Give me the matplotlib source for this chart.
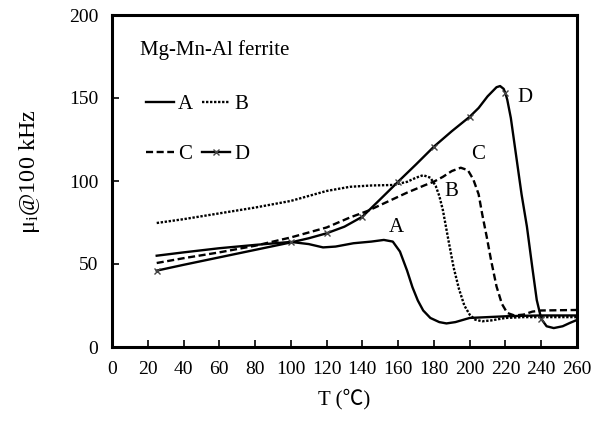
import matplotlib
matplotlib.use("Agg")
import matplotlib.pyplot as plt

# ---- data ----
A_T = [25, 40, 60, 80, 100, 110, 118, 125, 135, 145, 152, 157, 161, 165, 168, 171, 174, 178,
       183, 187, 192, 200, 210, 220, 230, 240, 250, 260]
A_mu = [55, 57, 59.5, 61.5, 63.3, 62, 60, 60.5, 62.5, 63.5, 64.5, 63.5, 57.5, 46, 36, 28, 22, 17.5,
        15, 14.2, 15, 17.5, 18, 18.5, 18.8, 19, 19, 19]

B_T = [25, 40, 60, 80, 100, 110, 120, 133, 145, 157, 165, 170, 174, 178, 181, 183, 185, 188,
       191, 194, 197, 200, 203, 207, 212, 220, 230, 260]
B_mu = [74.7, 77, 80.5, 84, 88, 91, 94, 96.5, 97.3, 97.6, 99.5, 102, 103.5, 102, 97, 91, 82.5, 65,
        48, 35, 25, 19.5, 16.5, 15.5, 16, 17.5, 18, 18]

C_T = [25, 40, 60, 80, 100, 120, 133, 143, 155, 165, 175, 180, 185, 190, 195, 199, 202, 205,
       207, 209.5, 212, 215, 218, 221, 225, 230, 235, 240, 260]
C_mu = [50.6, 53.5, 57, 61, 66, 72, 78, 82, 88, 93, 97.5, 99.6, 102.5, 106, 108, 106.5, 101, 92,
        80, 66.5, 52, 36.5, 26, 20.5, 19, 19.5, 21.3, 22, 22.3]

D_T = [25, 40, 60, 80, 100, 110, 120, 130, 140, 150, 160, 170, 180, 190, 200, 205, 210, 215,
       217, 219, 220, 221, 223, 226, 229, 232, 235, 237.5, 240, 243, 247, 252, 256, 260]
D_mu = [46, 49.5, 54, 58.5, 63, 65.5, 68.5, 72.5, 78.5, 89, 99.6, 110, 120.7, 130, 138.7, 144, 151,
        156.5, 157.2, 155.5, 152.8, 149, 138, 115, 92, 72.5, 48, 28.3, 17, 12.5, 11.4, 12.5, 14.5, 16.3]
D_marks = [25, 100, 120, 140, 160, 180, 200, 220, 240]

x_ticks = list(range(0, 261, 20))
y_ticks = [0, 50, 100, 150, 200]

serif = ["Liberation Serif", "Noto Sans CJK SC", "DejaVu Sans"]
plt.rcParams["font.family"] = serif
plt.rcParams["mathtext.fontset"] = "custom"
plt.rcParams["mathtext.rm"] = "Liberation Serif"
plt.rcParams["mathtext.it"] = "Liberation Serif"

fig = plt.figure(figsize=(6.10, 4.23), dpi=100)
ax = fig.add_axes([112 / 610, 1 - 347 / 423, 465 / 610, 332 / 423])

lw = 1.7
hA, = ax.plot(A_T, A_mu, color="black", lw=lw, ls="-", label="A")
hB, = ax.plot(B_T, B_mu, color="black", lw=lw, ls=(0, (1, 0.7)), label="B")
hC, = ax.plot(C_T, C_mu, color="black", lw=lw, ls=(0, (3, 1.5)), label="C")
mk_idx = [D_T.index(t) for t in D_marks]
hD, = ax.plot(D_T, D_mu, color="black", lw=lw, ls="-", marker="x", markersize=5,
              markeredgewidth=1.0, markeredgecolor="#444444", markevery=mk_idx, label="D")

ax.set_xlim(0, 260)
ax.set_ylim(0, 200)
ax.set_xticks(x_ticks)
ax.set_yticks(y_ticks)
ax.tick_params(direction="in", length=5, width=1.2, labelsize=14, pad=10)
for s in ax.spines.values():
    s.set_linewidth(2.2)

ax.set_xlabel("T (℃)", fontsize=15, labelpad=8)
ax.set_ylabel(r"μ$_\mathrm{i}$@100 kHz", fontsize=17.5)
ax.yaxis.set_label_coords(-0.15, 0.53)

ax.text(15.5, 179, "Mg-Mn-Al ferrite", fontsize=15, va="center", ha="left")
ax.text(158.8, 71.7, "A", fontsize=15, ha="center", va="center")
ax.text(190, 93.4, "B", fontsize=15, ha="center", va="center")
ax.text(204.7, 115.7, "C", fontsize=15, ha="center", va="center")
ax.text(231, 150.6, "D", fontsize=15, ha="center", va="center")

leg = ax.legend([hA, hC, hB, hD], ["A", "C", "B", "D"], ncol=2, loc="upper left",
                bbox_to_anchor=(0.073, 0.76), frameon=False, borderpad=0,
                fontsize=15, handlelength=1.35, handletextpad=0.2, columnspacing=0.4,
                labelspacing=1.45, numpoints=1, borderaxespad=0)

fig.savefig("out.png", dpi=100)
